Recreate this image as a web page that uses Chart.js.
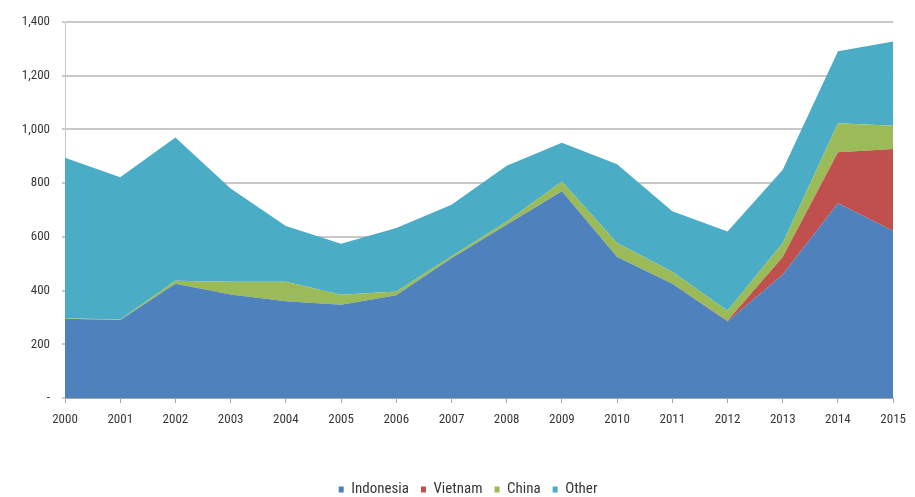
<!DOCTYPE html>
<html>
<head>
<meta charset="utf-8">
<script src="https://cdn.jsdelivr.net/npm/chart.js@4/dist/chart.umd.min.js"></script>
<style>
  html, body { margin: 0; padding: 0; background: #ffffff; }
  #wrap { width: 915px; height: 497px; position: relative; }
  canvas { filter: blur(0.35px); }
</style>
</head>
<body>
<div id="wrap"><canvas id="c" width="915" height="497"></canvas></div>
<script>
// Annual volumes by origin, stacked
const years = ['2000','2001','2002','2003','2004','2005','2006','2007','2008','2009','2010','2011','2012','2013','2014','2015'];
const indonesia = [295, 290, 425, 385, 360, 347, 383, 520, 645, 770, 525, 425, 285, 460, 725, 622];
const vietnam   = [0, 0, 0, 0, 0, 0, 0, 0, 0, 0, 0, 0, 3, 65, 190, 305];
const china     = [2, 2, 12, 48, 73, 37, 14, 8, 12, 36, 52, 45, 37, 52, 108, 87];
const other     = [598, 530, 533, 347, 207, 190, 236, 192, 208, 144, 293, 225, 295, 273, 268, 313];
const yTicks    = [0, 200, 400, 600, 800, 1000, 1200, 1400];

const FONT = '"Roboto Condensed", "Liberation Sans Narrow", sans-serif';
const TEXT = '#383838';

function area(label, data, color, fill) {
  return {
    label: label,
    data: data,
    backgroundColor: color,
    borderColor: color,
    borderWidth: 0,
    pointRadius: 0,
    pointHoverRadius: 0,
    tension: 0,
    fill: fill
  };
}

// Place the legend a little left of the plot area's centre
const legendPlacement = {
  id: 'legendPlacement',
  afterLayout(chart) {
    const lg = chart.legend;
    if (!lg) return;
    const target = (chart.chartArea.left + chart.chartArea.right) / 2 - 11;
    const shift = target - (lg.left + lg.right) / 2;
    lg.left += shift;
    lg.right += shift;
  }
};

new Chart(document.getElementById('c'), {
  type: 'line',
  data: {
    labels: years,
    datasets: [
      area('Indonesia', indonesia, '#4F81BD', 'origin'),
      area('Vietnam', vietnam, '#C0504D', '-1'),
      area('China', china, '#9BBB59', '-1'),
      area('Other', other, '#4BACC6', '-1')
    ]
  },
  plugins: [legendPlacement],
  options: {
    responsive: false,
    animation: false,
    layout: { padding: { left: 0, right: 14, top: 22, bottom: -10 } },
    plugins: {
      tooltip: { enabled: false },
      legend: {
        position: 'bottom',
        labels: {
          boxWidth: 5,
          boxHeight: 6,
          padding: 12,
          color: TEXT,
          font: { family: FONT, size: 15 }
        }
      }
    },
    scales: {
      x: {
        stacked: true,
        offset: false,
        afterFit: s => { s.height = 72; },
        grid: {
          drawOnChartArea: false,
          drawTicks: true,
          tickLength: 5,
          color: '#A6A6A6'
        },
        border: { display: true, color: '#A6A6A6', width: 1 },
        ticks: {
          autoSkip: false,
          maxRotation: 0,
          padding: 9,
          color: TEXT,
          font: { family: FONT, size: 13 }
        }
      },
      y: {
        stacked: true,
        min: 0,
        max: 1400,
        afterFit: s => { s.width = 65; },
        afterBuildTicks: s => { s.ticks = yTicks.map(v => ({ value: v })); },
        grid: {
          color: '#C8C8C8',
          lineWidth: 2,
          drawTicks: true,
          tickLength: 3
        },
        border: { display: true, color: '#C8C8C8', width: 1 },
        ticks: {
          padding: 12,
          color: TEXT,
          font: { family: FONT, size: 13 },
          callback: v => v === 0 ? '-' : v.toLocaleString('en-US')
        }
      }
    }
  }
});
</script>
</body>
</html>
